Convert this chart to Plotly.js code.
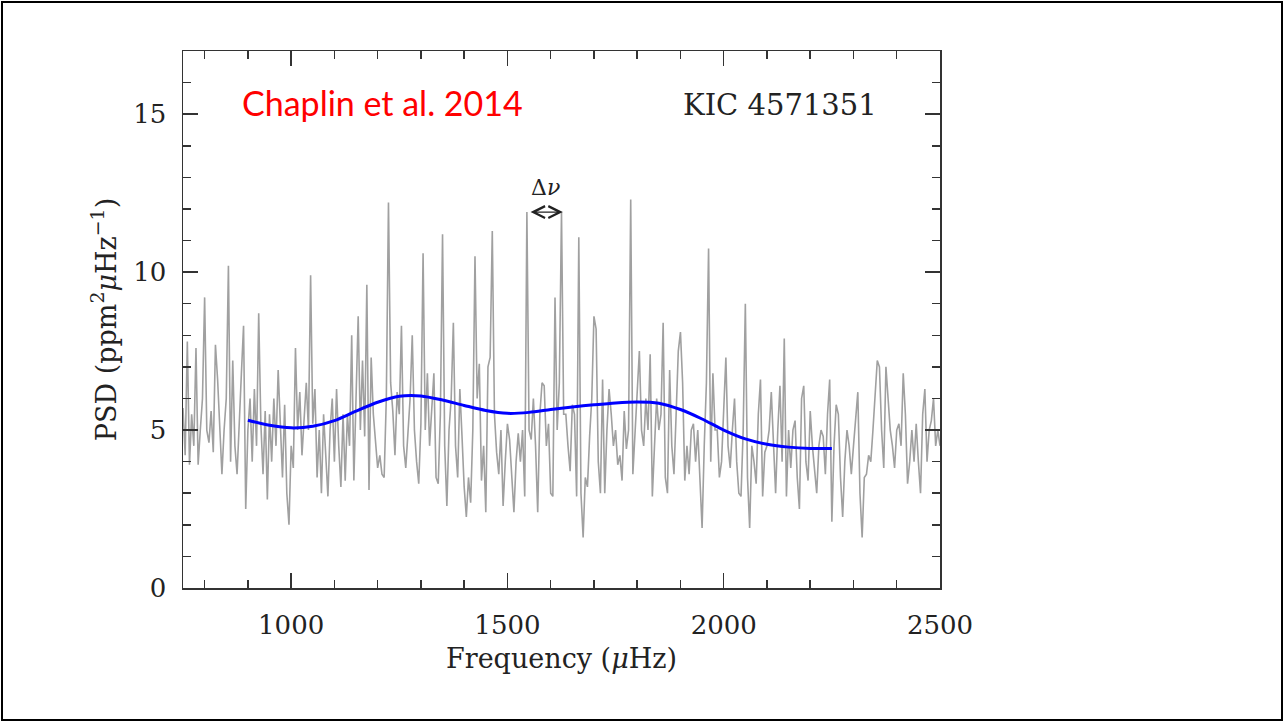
<!DOCTYPE html>
<html>
<head>
<meta charset="utf-8">
<script src="https://cdn.plot.ly/plotly-3.0.1.min.js"></script>
<style>
  html, body { margin: 0; padding: 0; background: #fff; }
  #wrap { position: relative; width: 1284px; height: 722px; }
  #chart { position: absolute; left: 0; top: 0; width: 1284px; height: 722px; }
  #frame { position: absolute; left: 1px; top: 1px; width: 1282px; height: 720px; box-sizing: border-box; border: 2px solid #000; pointer-events: none; }
</style>
</head>
<body>
<div id="wrap">
  <div id="chart"></div>
  <div id="frame"></div>
</div>
<script>
// Power spectrum samples (PSD, ppm^2/uHz) on a 5 uHz grid starting at 750 uHz
const freqStart = 750;
const freqStep = 5;
const psd = [
  // 750-845
  5.7, 4.2, 7.8, 3.9, 5.5, 4.5, 7.6, 3.9, 5.0, 6.0, 9.2, 5.0, 4.6, 5.6, 4.3, 7.7, 6.6, 5.2, 3.6, 5.0,
  // 850-945
  6.0, 10.2, 4.0, 7.2, 4.5, 3.6, 5.5, 6.8, 8.3, 2.5, 5.0, 6.0, 4.0, 6.3, 4.5, 8.7, 5.2, 3.6, 5.6, 2.8,
  // 950-1045
  5.5, 4.0, 6.0, 4.5, 6.9, 5.0, 3.5, 5.8, 3.0, 2.0, 4.5, 3.8, 7.6, 5.0, 6.2, 4.2, 5.5, 6.5, 5.0, 9.9,
  // 1050-1145
  5.2, 6.3, 3.5, 5.0, 3.0, 5.5, 4.2, 2.9, 5.0, 6.0, 4.0, 6.3, 4.5, 3.2, 5.5, 3.4, 5.5, 4.5, 8.0, 3.4,
  // 1150-1245
  6.0, 8.6, 5.0, 7.2, 4.8, 9.6, 3.1, 7.3, 5.5, 4.6, 3.8, 4.2, 3.6, 3.5, 6.0, 12.2, 6.5, 5.6, 4.2, 6.2,
  // 1250-1345
  5.5, 8.3, 4.5, 3.8, 5.0, 6.0, 8.0, 5.0, 4.0, 3.3, 5.2, 10.6, 5.0, 6.8, 4.5, 5.5, 6.8, 3.5, 3.3, 5.5,
  // 1350-1445
  11.2, 4.5, 2.6, 5.0, 6.0, 8.4, 4.5, 3.5, 6.3, 4.8, 3.2, 2.25, 3.5, 2.7, 5.0, 10.5, 6.0, 7.1, 3.4, 4.5,
  // 1450-1545
  2.4, 7.0, 7.3, 11.3, 5.5, 4.3, 3.6, 5.0, 2.6, 4.0, 5.2, 4.7, 3.5, 2.4, 4.0, 4.9, 4.0, 5.0, 2.9, 11.9,
  // 1550-1645
  5.0, 4.7, 6.0, 4.5, 2.4, 5.5, 6.5, 6.4, 4.5, 5.2, 3.0, 2.9, 9.2, 5.0, 6.5, 11.9, 5.5, 5.5, 4.5, 3.7,
  // 1650-1745
  5.8, 5.5, 2.9, 11.1, 3.0, 1.6, 3.5, 3.2, 4.8, 6.0, 8.6, 8.2, 4.0, 3.0, 6.6, 3.0, 5.0, 6.3, 5.5, 4.5,
  // 1750-1845
  5.0, 3.9, 4.2, 3.4, 5.6, 4.4, 5.0, 12.3, 3.6, 5.0, 6.0, 7.5, 5.0, 4.5, 6.0, 5.0, 7.4, 2.9, 4.5, 6.0,
  // 1850-1945
  5.0, 5.5, 8.4, 3.5, 3.0, 6.9, 4.5, 3.6, 5.5, 7.5, 8.1, 6.5, 3.4, 4.5, 3.6, 5.0, 5.2, 4.0, 5.0, 3.5,
  // 1950-2045
  1.9, 4.5, 6.5, 10.75, 4.0, 6.8, 5.0, 5.0, 3.5, 4.0, 5.5, 7.3, 4.5, 3.8, 5.0, 6.0, 4.0, 3.0, 2.9, 5.0,
  // 2050-2145
  9.0, 3.5, 1.9, 4.5, 4.0, 3.3, 5.5, 6.6, 2.9, 4.3, 4.5, 5.0, 6.2, 4.5, 3.0, 5.0, 6.4, 4.0, 7.9, 2.9,
  // 2150-2245
  5.0, 3.8, 5.0, 5.3, 3.5, 2.5, 6.0, 6.4, 4.0, 3.4, 5.6, 4.5, 3.8, 3.0, 4.5, 5.0, 4.8, 3.6, 5.5, 6.6,
  // 2250-2345
  2.1, 4.5, 5.8, 5.5, 3.5, 2.25, 4.0, 5.0, 4.5, 3.6, 4.5, 5.5, 6.2, 3.0, 1.6, 3.5, 3.6, 4.2, 4.0, 5.0,
  // 2350-2445
  6.2, 7.2, 7.0, 5.0, 3.8, 7.0, 6.0, 5.0, 4.5, 3.8, 5.0, 5.2, 4.5, 6.8, 5.5, 3.3, 4.0, 5.0, 4.0, 5.2,
  // 2450-2500
  4.0, 3.0, 5.5, 6.3, 4.0, 5.0, 5.3, 6.0, 4.5, 5.0, 4.5
];
const freq = psd.map((_, i) => freqStart + i * freqStep);

// Smoothed background (blue curve)
const smoothFreq = [900, 950, 1000, 1050, 1100, 1150, 1200, 1250, 1300, 1350, 1400, 1450, 1500, 1550,
                    1600, 1650, 1700, 1750, 1800, 1850, 1900, 1950, 2000, 2050, 2100, 2150, 2200, 2250];
const smoothPsd  = [5.31, 5.15, 5.07, 5.12, 5.30, 5.60, 5.88, 6.07, 6.08, 5.95, 5.78, 5.62, 5.53, 5.56,
                    5.65, 5.73, 5.80, 5.86, 5.89, 5.85, 5.65, 5.35, 5.00, 4.72, 4.55, 4.46, 4.42, 4.42];

// Large-separation marker (the two modes it spans)
const dnuFreqs = [1550, 1628];
const dnuLevel = 11.9;

const xTickVals = [1000, 1500, 2000, 2500];
const yTickVals = [0, 5, 10, 15];

const serif = 'DejaVu Serif, Liberation Serif, serif';
const axisColor = '#333333';

const traces = [
  { x: freq, y: psd, type: 'scatter', mode: 'lines',
    line: { color: '#a0a0a0', width: 1.6 }, hoverinfo: 'skip' },
  { x: smoothFreq, y: smoothPsd, type: 'scatter', mode: 'lines',
    line: { color: '#0000ff', width: 3, shape: 'spline', smoothing: 0.8 }, hoverinfo: 'skip' }
];

const layout = {
  width: 1284, height: 722,
  margin: { l: 183, r: 344, t: 51, b: 134 },
  paper_bgcolor: '#ffffff', plot_bgcolor: '#ffffff',
  showlegend: false,
  xaxis: {
    range: [750, 2500], tickvals: xTickVals, ticktext: xTickVals.map(String),
    ticks: 'inside', ticklen: 15, tickwidth: 1.5, tickcolor: axisColor,
    minor: { dtick: 100, tick0: 0, ticks: 'inside', ticklen: 8, tickwidth: 1.5, tickcolor: axisColor },
    showline: true, linecolor: axisColor, linewidth: 1.5, mirror: 'allticks',
    showgrid: false, zeroline: false,
    ticklabelstandoff: 13,
    tickfont: { family: serif, size: 26, color: '#222' },
    title: { text: 'Frequency (<i>μ</i>Hz)', font: { family: serif, size: 27, color: '#222' }, standoff: 10 }
  },
  yaxis: {
    range: [0, 17], tickvals: yTickVals, ticktext: yTickVals.map(String),
    ticks: 'inside', ticklen: 15, tickwidth: 1.5, tickcolor: axisColor,
    minor: { dtick: 1, tick0: 0, ticks: 'inside', ticklen: 8, tickwidth: 1.5, tickcolor: axisColor },
    showline: true, linecolor: axisColor, linewidth: 1.5, mirror: 'allticks',
    showgrid: false, zeroline: false,
    ticklabelstandoff: 10,
    tickfont: { family: serif, size: 26, color: '#222' },
    title: { text: 'PSD (ppm<sup>2</sup><i>μ</i>Hz<sup>−1</sup>)', font: { family: serif, size: 27, color: '#222' }, standoff: 9 }
  },
  annotations: [
    { x: 881, y: 15.36, xref: 'x', yref: 'y', xanchor: 'left', yanchor: 'middle',
      text: 'Chaplin et al. 2014', showarrow: false,
      font: { family: 'Lato, Liberation Sans, sans-serif', size: 34, color: '#ff0000' } },
    { x: 2360, y: 15.3, xref: 'x', yref: 'y', xanchor: 'right', yanchor: 'middle',
      text: 'KIC 4571351', showarrow: false,
      font: { family: serif, size: 29, color: '#222' } },
    { x: (dnuFreqs[0] + dnuFreqs[1]) / 2, y: 12.68, xref: 'x', yref: 'y', xanchor: 'center', yanchor: 'middle',
      text: 'Δ<i>ν</i>', showarrow: false,
      font: { family: serif, size: 22, color: '#222' } },
    { x: dnuFreqs[1], y: dnuLevel, ax: dnuFreqs[0], ay: dnuLevel, xref: 'x', yref: 'y', axref: 'x', ayref: 'y',
      text: '', showarrow: true, arrowside: 'end+start',
      arrowhead: 5, startarrowhead: 5, arrowsize: 1.8, startarrowsize: 1.8, arrowwidth: 1.3, arrowcolor: '#222' }
  ]
};

Plotly.newPlot('chart', traces, layout, { staticPlot: true, displayModeBar: false });
</script>
</body>
</html>
